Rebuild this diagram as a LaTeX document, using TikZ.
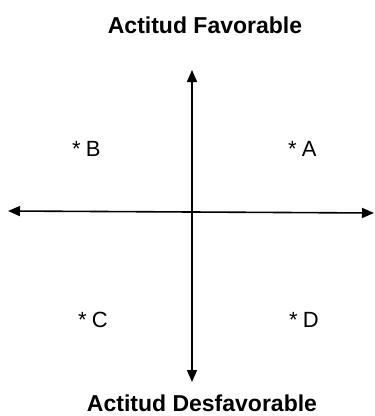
\documentclass[tikz,border=0pt]{standalone}
\usepackage{fontspec}
\setmainfont{Liberation Sans}
\usetikzlibrary{arrows.meta}
\begin{document}
\begin{tikzpicture}[x=1pt,y=-1pt,
  axis/.style={line width=1.6pt,-{Triangle[length=12pt,width=10pt]}},
  title/.style={font=\fontsize{23}{28}\selectfont\bfseries,inner sep=0pt},
  lbl/.style={font=\fontsize{22}{26}\selectfont,inner sep=0pt,anchor=base west}]
\useasboundingbox (0,0) rectangle (375,416);
\coordinate (o) at (192,212);
\coordinate (up) at (192,70);
\coordinate (dn) at (192,382);
\coordinate (lf) at (8,211);
\coordinate (rt) at (374,213);
\draw[axis] (o) -- (up);
\draw[axis] (o) -- (dn);
\draw[axis] (o) -- (lf);
\draw[axis] (o) -- (rt);
\node[title,anchor=base] (fav) at (205,33) {Actitud Favorable};
\node[title,anchor=base] (desfav) at (202,411) {Actitud Desfavorable};
\node[lbl] (A) at (288,156) {*\hspace{5pt}A};
\node[lbl] (B) at (72,156) {*\hspace{5pt}B};
\node[lbl] (C) at (78,327) {*\hspace{5pt}C};
\node[lbl] (D) at (289,327) {*\hspace{5pt}D};
\end{tikzpicture}
\end{document}
